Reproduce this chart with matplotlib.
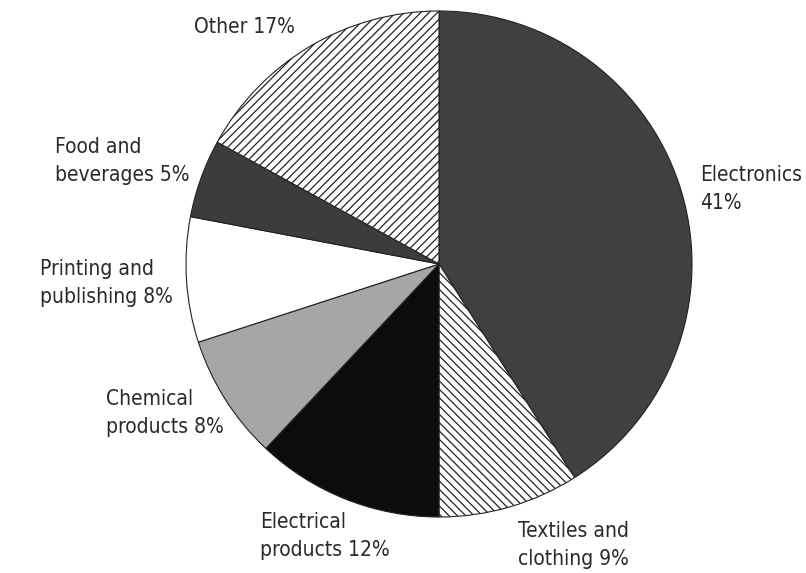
import matplotlib.pyplot as plt

# data
labels = ["Electronics\n41%", "Textiles and\nclothing 9%", "Electrical\nproducts 12%",
          "Chemical\nproducts 8%", "Printing and\npublishing 8%", "Food and\nbeverages 5%",
          "Other 17%"]
shares = [41, 9, 12, 8, 8, 5, 17]
colors = ["#404040", "white", "#0c0c0c", "#a6a6a6", "white", "#3c3c3c", "white"]
hatches = [None, "\\\\\\\\", None, None, None, None, "////"]

# label anchor (left x, top y) in pixel coords of the original picture
label_pos = [(700, 165), (518, 521), (260, 512), (106, 389), (40, 259), (55, 137), (194, 17)]

plt.rcParams['hatch.linewidth'] = 0.9

fig = plt.figure(figsize=(8.06, 5.73), dpi=100)
ax = fig.add_axes([0, 0, 1, 1])

W = 573
wedges, _ = ax.pie(shares, colors=colors, startangle=90, counterclock=False,
                   center=(439, W - 264), radius=253, frame=True,
                   wedgeprops=dict(edgecolor="#222222", linewidth=0.8))
for w, h in zip(wedges, hatches):
    if h:
        w.set_hatch(h)
ax.set_xlim(0, 806)
ax.set_ylim(0, 573)
ax.set_aspect('equal')
ax.axis('off')

for lab, (x, y) in zip(labels, label_pos):
    ax.text(x, W - y, lab, ha='left', va='top', fontsize=15, family='DejaVu Sans',
            fontstretch='condensed', color="#2a2a2a", linespacing=1.5)

fig.savefig("out.png", dpi=100)
